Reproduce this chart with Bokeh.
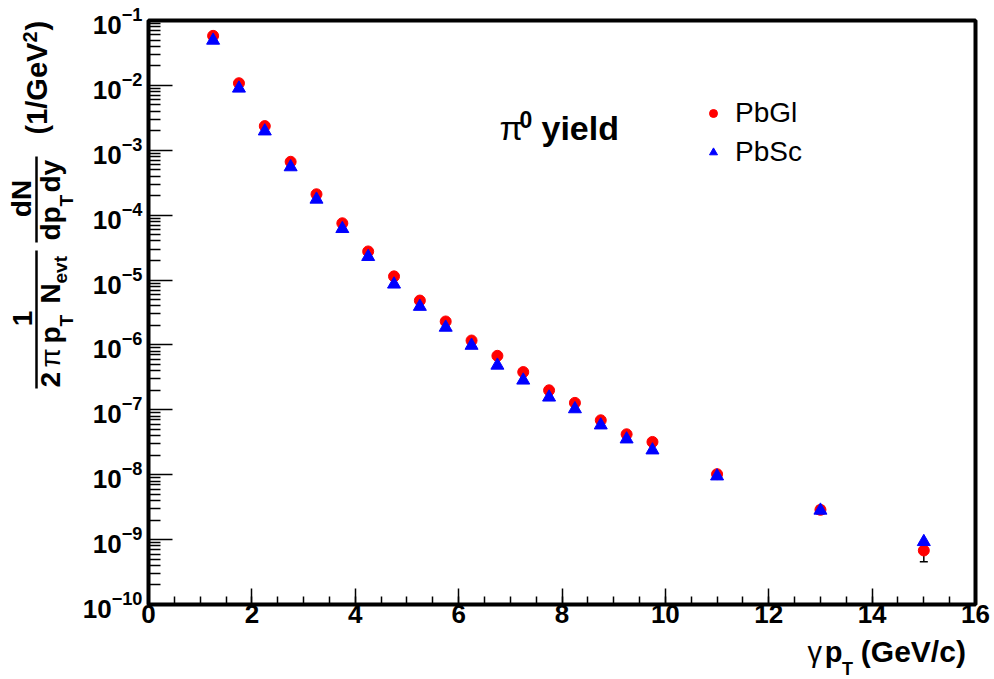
import numpy as np
from bokeh.plotting import figure
from bokeh.layouts import row, column
from bokeh.models import (Range1d, FixedTicker, Label, Legend, LegendItem, Whisker,
                          ColumnDataSource, TeeHead)
from bokeh.core.properties import value
from bokeh.embed import file_html
from bokeh.resources import INLINE

# ---------------- data ----------------
pt = [1.25, 1.75, 2.25, 2.75, 3.25, 3.75, 4.25, 4.75, 5.25, 5.75, 6.25,
      6.75, 7.25, 7.75, 8.25, 8.75, 9.25, 9.75, 11.0, 13.0, 15.0]
pbgl = [5.8e-2, 1.08e-2, 2.36e-3, 6.65e-4, 2.10e-4, 7.5e-5, 2.76e-5, 1.14e-5,
        4.83e-6, 2.30e-6, 1.17e-6, 6.8e-7, 3.82e-7, 2.0e-7, 1.28e-7, 6.9e-8,
        4.2e-8, 3.2e-8, 1.02e-8, 2.88e-9, 6.8e-10]
pbgl_err = [1.0e-3, 2.0e-4, 4.0e-5, 1.2e-5, 4.0e-6, 1.5e-6, 6.0e-7, 3.0e-7,
            1.4e-7, 8.0e-8, 5.0e-8, 3.0e-8, 2.0e-8, 1.2e-8, 9.0e-9, 6.0e-9,
            4.0e-9, 3.5e-9, 1.2e-9, 4.0e-10, 2.24e-10]
pbsc = [4.93e-2, 9.0e-3, 1.97e-3, 5.52e-4, 1.75e-4, 6.17e-5, 2.29e-5, 8.6e-6,
        3.9e-6, 1.86e-6, 9.8e-7, 4.84e-7, 2.85e-7, 1.56e-7, 1.03e-7, 5.8e-8,
        3.53e-8, 2.39e-8, 9.5e-9, 2.82e-9, 9.25e-10]
x_major = [0, 2, 4, 6, 8, 10, 12, 14, 16]
y_decades = list(range(-10, 0))

# ---------------- layout ----------------
W, H = 994, 679
LW = 78            # width of the left strip holding the y title
SPLIT = 634        # canvas y where the x-title strip begins
FL, FR, FT, FB = 148, 975, 20, 604
FONT = "Liberation Sans"
K = 0.36           # baseline correction (fraction of the font size)

p = figure(width=W - LW, height=SPLIT, x_range=Range1d(0, 16),
           y_range=Range1d(1e-10, 1e-1), y_axis_type="log",
           output_backend="svg", toolbar_location=None,
           min_border_left=FL - LW, min_border_right=W - FR, min_border_top=FT,
           min_border_bottom=SPLIT - FB)
p.xgrid.visible = False
p.ygrid.visible = False
p.background_fill_color = "white"
p.border_fill_color = "white"
p.outline_line_color = "black"
p.outline_line_width = 4
p.outline_line_alpha = 1.0

p.xaxis.ticker = FixedTicker(ticks=x_major,
                             minor_ticks=list(np.arange(0, 16.01, 0.5)))
p.yaxis.ticker = FixedTicker(ticks=[10.0 ** k for k in y_decades],
                             minor_ticks=[m * 10.0 ** k for k in y_decades[:-1]
                                          for m in range(2, 10)])
for ax in (p.xaxis[0], p.yaxis[0]):
    ax.axis_line_color = None
    ax.major_tick_line_color = "black"
    ax.minor_tick_line_color = "black"
    ax.major_tick_line_width = 1.5
    ax.minor_tick_line_width = 1.5
    ax.major_tick_out = 0
    ax.minor_tick_out = 0
    ax.major_label_text_font = FONT
    ax.major_label_text_font_style = "bold"
    ax.major_label_text_font_size = "26px"
    ax.major_label_text_color = "black"
p.yaxis.major_tick_in = 24
p.yaxis.minor_tick_in = 12
p.xaxis.major_tick_in = 16
p.xaxis.minor_tick_in = 8
p.yaxis.major_label_standoff = 6
p.xaxis.major_label_standoff = 0

# ---------------- data marks ----------------
src = ColumnDataSource(dict(x=pt, gl=pbgl, sc=pbsc,
                            lo=[v - e for v, e in zip(pbgl, pbgl_err)],
                            hi=[v + e for v, e in zip(pbgl, pbgl_err)]))
wh = Whisker(source=src, base="x", lower="lo", upper="hi", dimension="height",
             line_color="black", line_width=1.5,
             lower_head=TeeHead(size=8, line_color="black", line_width=1.5),
             upper_head=TeeHead(size=8, line_color="black", line_width=1.5))
p.add_layout(wh)
r_gl = p.scatter("x", "gl", source=src, marker="circle", size=11,
                 fill_color="#ff0000", line_color="#ff0000", line_width=1)
r_sc = p.scatter("x", "sc", source=src, marker="triangle", size=13,
                 fill_color="#0000ff", line_color="#0000ff", line_width=1)

legend = Legend(items=[LegendItem(label="PbGl", renderers=[r_gl]),
                       LegendItem(label="PbSc", renderers=[r_sc])],
                location=(555, 436), orientation="vertical",
                background_fill_alpha=0, border_line_color=None,
                padding=0, margin=0, spacing=7, glyph_width=20, glyph_height=28,
                label_height=28, label_standoff=12,
                label_text_font=FONT, label_text_font_size="28px",
                label_text_color="black")
p.add_layout(legend)


def lab(text, cx, cy, size, style="bold", align="left"):
    p.add_layout(Label(x=cx - FL, y=FB - (cy - K * size), x_units="screen",
                       y_units="screen", text=text, text_font=FONT,
                       text_font_style=style, text_font_size=f"{size}px",
                       text_color="black", text_align=align,
                       text_baseline="alphabetic"))


# title "pi^0 yield" (inside the frame)
lab("\u03c0", 499, 140, 34, style="normal")
lab("0", 519, 127, 23)
lab("yield", 541, 140, 34)


# ---------------- helper strips for texts outside the frame ----------------
def strip(width, height, x0, x1, y0, y1):
    f = figure(width=width, height=height, x_range=Range1d(x0, x1),
               y_range=Range1d(y1, y0), output_backend="svg", toolbar_location=None,
               min_border=0, x_axis_location=None, y_axis_location=None,
               title=None)
    f.xgrid.visible = False
    f.ygrid.visible = False
    f.outline_line_color = None
    f.background_fill_color = "white"
    f.border_fill_color = "white"
    return f


def txt(f, items, size, style="bold", angle=0.0, align="left"):
    xs, ys, ts = zip(*items)
    if angle:
        xs = [x - K * size for x in xs]
    else:
        ys = [y - K * size for y in ys]
    f.text(x=list(xs), y=list(ys), text=list(ts), angle=angle,
           text_font=value(FONT), text_font_style=style,
           text_font_size=f"{size}px", text_color="black",
           text_align=align, text_baseline="alphabetic")


# left strip: y-axis title (canvas coordinates, x 0..LW, y 0..H)
left = strip(LW, H, 0, LW, 0, H)
A = np.pi / 2
txt(left, [(32, 318, "1")], 28, angle=A, align="center")
left.segment(x0=[36], y0=[250], x1=[36], y1=[388], line_color="black", line_width=2.5)
txt(left, [(60, 387, "2"), (60, 343, "p"), (60, 303, "N")], 28, angle=A)
txt(left, [(60, 367, "\u03c0")], 28, style="normal", angle=A)
txt(left, [(73, 326, "T"), (67, 283, "evt")], 19, angle=A)

txt(left, [(31, 198, "dN")], 28, angle=A, align="center")
left.segment(x0=[36], y0=[156], x1=[36], y1=[242], line_color="black", line_width=2.5)
txt(left, [(60, 240, "dp"), (60, 192, "dy")], 28, angle=A)
txt(left, [(73, 206, "T")], 19, angle=A)

txt(left, [(47, 134, "(1/GeV"), (47, 30, ")")], 29, angle=A)
txt(left, [(37, 42, "2")], 20, angle=A)

# bottom strip: x-axis title (canvas coordinates, x LW..W, y SPLIT..H)
bottom = strip(W - LW, H - SPLIT, LW, W, SPLIT, H)
txt(bottom, [(808, 662, "\u03b3")], 29, style="normal")
txt(bottom, [(827, 662, "p")], 29)
txt(bottom, [(846, 675, "T")], 18)
txt(bottom, [(867, 662, "(GeV/c)")], 30)

layout = row(left, column(p, bottom))
open("out.html", "w").write(file_html(layout, INLINE))
